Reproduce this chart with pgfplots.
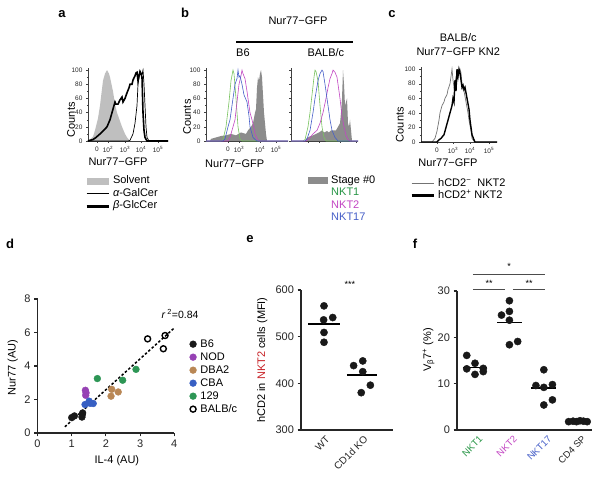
\documentclass[border=0pt]{standalone}
\usepackage{fontspec}
\setmainfont{Liberation Sans}
\usepackage{pgfplots}
\pgfplotsset{compat=1.18}
\definecolor{nktgreenL}{RGB}{120,195,95}
\definecolor{nktgreenT}{RGB}{40,150,70}
\definecolor{nktmag}{RGB}{195,70,195}
\definecolor{nktblue}{RGB}{70,95,200}
\definecolor{nodc}{RGB}{150,65,180}
\definecolor{dbac}{RGB}{185,135,85}
\definecolor{cbac}{RGB}{55,95,195}
\definecolor{cott}{RGB}{45,150,85}
\definecolor{nktred}{RGB}{200,35,40}
\pgfplotsset{
  /pgf/number format/assume math mode=true,
  every axis title shift=0pt,
  flow/.style={scale only axis, axis lines*=left, no markers, clip=false,
    axis line style={line width=0.5pt, black!75},
    every tick/.style={black!75, line width=0.4pt},
    tick align=outside, major tick length=2pt, minor tick length=1.2pt,
    ymin=0, ymax=103, ytick={0,20,40,60,80,100}, minor y tick num=1,
    tick label style={font=\fontsize{6.5}{7}\selectfont, text=black!85},
    label style={font=\fontsize{11}{12}\selectfont},
    legend style={draw=none, fill=none, inner sep=0pt, anchor=north west,
      font=\fontsize{11}{12}\selectfont,
      nodes={inner sep=1pt, text height=8pt, text depth=2.5pt},
      cells={anchor=west}, column sep=2pt}},
  dotstyle/.style={scale only axis, axis lines*=left, clip=false,
    axis line style={line width=1.2pt, black!85},
    every tick/.style={black!85, line width=1.1pt},
    tick align=outside, major tick length=3.5pt,
    tick label style={font=\fontsize{11}{12}\selectfont, text=black!85},
    label style={font=\fontsize{11}{12}\selectfont}},
}
\newcommand{\lfont}{\fontsize{11}{12}\selectfont}
\begin{document}
\begin{tikzpicture}
\useasboundingbox (0pt,0pt) rectangle (604pt,486pt);
\fill[white] (0pt,0pt) rectangle (604pt,486pt);
% panel letters
\node[font=\fontsize{13}{13}\selectfont\bfseries, anchor=base] at (62pt,468pt) {a};
\node[font=\fontsize{13}{13}\selectfont\bfseries, anchor=base] at (185pt,468pt) {b};
\node[font=\fontsize{13}{13}\selectfont\bfseries, anchor=base] at (392pt,468pt) {c};
\node[font=\fontsize{13}{13}\selectfont\bfseries, anchor=base] at (10pt,237pt) {d};
\node[font=\fontsize{13}{13}\selectfont\bfseries, anchor=base] at (250pt,243pt) {e};
\node[font=\fontsize{13}{13}\selectfont\bfseries, anchor=base] at (415pt,237pt) {f};
% panel b header
\node[font=\lfont] at (298pt,465pt) {Nur77−GFP};
\draw[line width=1.7pt] (236pt,444pt) -- (353pt,444pt);

%%%%%%%% panel a
\begin{axis}[flow, at={(88pt,345pt)}, anchor=south west, width=80pt, height=73pt,
  xmin=0, xmax=80, xtick={9,20,37,53,70},
  xticklabels={0,10\textsuperscript{2},10\textsuperscript{3},10\textsuperscript{4},10\textsuperscript{5}},
  ylabel={Counts}, ylabel style={at={(axis description cs:-0.21,0.29)}, anchor=center},
  xlabel={Nur77−GFP}, xlabel style={at={(axis description cs:0.375,-0.29)}, anchor=center},
  legend style={at={(axis description cs:-0.04,-0.46)}}]
\addlegendimage{fill=black!25, draw=none, legend image code/.code={\fill (0pt,-3.5pt) rectangle (22pt,3.5pt);}}
\addlegendentry{Solvent}
\addlegendimage{black, line width=0.6pt, legend image code/.code={\draw (0pt,0pt) -- (22pt,0pt);}}
\addlegendentry{{\itshape α}-GalCer}
\addlegendimage{black, line width=3pt, legend image code/.code={\draw (0pt,0pt) -- (22pt,0pt);}}
\addlegendentry{{\itshape β}-GlcCer}
\addplot[fill=black!25, draw=none, forget plot] coordinates {(0,0)(2,2)(5,6)(7,15)(10,32)(12,50)(15,85)(17,95)(19,100)(21,95)(22,90)(25,70)(27,52)(29,40)(32,28)(34,20)(37,10)(39,5)(42,0)} \closedcycle;
\addplot[black, line width=0.7pt, forget plot] coordinates {(0,0)(40,0)(42,1)(45,10)(47,25)(49,50)(50,80)(52,98)(53,96)(54,94)(55,100)(56,80)(57,50)(58,20)(59,5)(61,0)(80,0)};
\addplot[black, line width=1.6pt, forget plot] coordinates {(0,0)(2,1)(5,2)(8,5)(12,10)(15,14)(19,20)(22,30)(24,40)(26,50)(27,55)(28,52)(30,52)(32,58)(34,62)(35,55)(37,60)(39,68)(41,75)(42,80)(44,80)(45,86)(47,92)(48,96)(49,97)(50,85)(51,92)(52,98)(53,95)(54,90)(55,40)(56,15)(57,5)(59,0)(80,0)};
\end{axis}

%%%%%%%% panel b left (B6)
\begin{axis}[flow, at={(206pt,345pt)}, anchor=south west, width=82pt, height=73pt,
  xmin=0, xmax=82, xtick={22,33,54,70},
  xticklabels={0,10\textsuperscript{3},10\textsuperscript{4},10\textsuperscript{5}},
  title={B6}, title style={font=\lfont, at={(axis description cs:0.45,1.205)}, anchor=center},
  ylabel={Counts}, ylabel style={at={(axis description cs:-0.23,0.33)}, anchor=center},
  xlabel={Nur77−GFP}, xlabel style={at={(axis description cs:0.35,-0.31)}, anchor=center}]
\addplot[fill=black!45, draw=none] coordinates {(4,0)(5,3)(10,5)(15,7)(20,8)(25,10)(30,8)(35,12)(40,10)(42,15)(45,20)(47,25)(49,40)(50,45)(51,75)(52,90)(53,85)(54,95)(55,100)(56,90)(57,65)(58,40)(59,25)(60,10)(61,0)} \closedcycle;
\addplot[nktgreenL, line width=0.6pt] coordinates {(0,0)(15,0)(17,2)(20,20)(23,55)(25,85)(27,100)(28,95)(30,60)(32,20)(34,3)(36,0)(82,0)};
\addplot[nktmag, line width=0.6pt] coordinates {(0,0)(22,0)(24,5)(27,20)(29,30)(31,55)(33,80)(35,92)(36,100)(37,95)(39,88)(41,70)(42,60)(44,40)(46,30)(48,18)(49,10)(51,3)(53,0)(82,0)};
\addplot[nktblue, line width=0.6pt] coordinates {(0,0)(17,0)(19,3)(22,20)(24,30)(27,60)(29,80)(31,88)(32,100)(33,90)(34,92)(36,80)(38,65)(41,55)(43,35)(44,20)(47,5)(50,1)(51,0)(82,0)};
\end{axis}

%%%%%%%% panel b right (BALB/c)
\begin{axis}[flow, at={(291pt,345pt)}, anchor=south west, width=67pt, height=73pt,
  xmin=0, xmax=67, xtick={17,28,49,65}, xticklabels={}, yticklabels={},
  title={BALB/c}, title style={font=\lfont, at={(axis description cs:0.52,1.205)}, anchor=center},
  legend style={at={(axis description cs:0.254,-0.452)}}]
\addlegendimage{fill=black!45, draw=none, legend image code/.code={\fill (0pt,-3.5pt) rectangle (20pt,3.5pt);}}
\addlegendentry{Stage \#0}
\addlegendimage{empty legend}
\addlegendentry{\textcolor{nktgreenT}{NKT1}}
\addlegendimage{empty legend}
\addlegendentry{\textcolor{nktmag}{NKT2}}
\addlegendimage{empty legend}
\addlegendentry{\textcolor{nktblue}{NKT17}}
\addplot[fill=black!45, draw=none, forget plot] coordinates {(14,0)(15,3)(18,6)(22,8)(25,10)(28,12)(31,15)(33,12)(36,14)(38,12)(40,15)(45,15)(47,20)(49,25)(50,40)(51,60)(52,100)(53,80)(54,50)(55,55)(56,60)(57,25)(58,20)(59,30)(60,15)(61,0)} \closedcycle;
\addplot[nktgreenL, line width=0.6pt, forget plot] coordinates {(0,0)(12,0)(14,2)(17,20)(19,40)(21,65)(23,90)(24,100)(25,98)(27,85)(29,50)(31,20)(33,5)(35,0)(67,0)};
\addplot[nktmag, line width=0.6pt, forget plot] coordinates {(0,0)(15,0)(18,3)(22,10)(26,15)(29,25)(32,40)(35,60)(37,75)(39,88)(41,95)(42,100)(44,97)(46,90)(47,80)(49,60)(51,35)(53,20)(55,8)(57,2)(59,0)(67,0)};
\addplot[nktblue, line width=0.6pt, forget plot] coordinates {(0,0)(14,0)(16,3)(19,15)(22,40)(24,60)(27,85)(29,95)(31,100)(32,98)(34,80)(36,60)(39,30)(41,15)(44,5)(47,0)(67,0)};
\end{axis}

%%%%%%%% panel c
\begin{axis}[flow, at={(421pt,344pt)}, anchor=south west, width=76pt, height=75pt,
  xmin=0, xmax=76, xtick={16,32,49,68},
  xticklabels={0,10\textsuperscript{3},10\textsuperscript{4},10\textsuperscript{5}},
  title={BALB/c\\Nur77−GFP KN2},
  title style={font=\fontsize{11}{14}\selectfont, align=center, at={(axis description cs:0.49,1.293)}, anchor=center},
  ylabel={Counts}, ylabel style={at={(axis description cs:-0.28,0.23)}, anchor=center},
  xlabel={Nur77−GFP}, xlabel style={at={(axis description cs:0.355,-0.27)}, anchor=center},
  legend style={at={(axis description cs:-0.145,-0.467)}}]
\addlegendimage{black!55, line width=0.7pt, legend image code/.code={\draw (0pt,0pt) -- (22pt,0pt);}}
\addlegendentry{hCD2\textsuperscript{−}\ \ NKT2}
\addlegendimage{black, line width=3pt, legend image code/.code={\draw (0pt,0pt) -- (22pt,0pt);}}
\addlegendentry{hCD2\textsuperscript{+} NKT2}
\addplot[black!55, line width=0.7pt, forget plot] coordinates {(0,0)(11,0)(14,5)(16,15)(18,30)(19,40)(21,50)(23,55)(24,60)(26,65)(27,72)(29,80)(30,90)(31,100)(32,85)(33,75)(34,82)(36,95)(37,90)(38,98)(39,100)(40,95)(41,80)(42,72)(43,70)(45,55)(47,40)(48,30)(50,15)(51,5)(53,1)(54,0)(76,0)};
\addplot[black, line width=1.4pt, forget plot] coordinates {(0,0)(16,0)(18,3)(20,5)(23,10)(25,20)(27,30)(28,35)(30,45)(31,50)(32,60)(33,55)(34,85)(35,70)(36,100)(37,90)(38,100)(39,95)(40,85)(41,75)(42,78)(43,72)(44,75)(46,60)(48,45)(49,30)(50,20)(51,10)(53,3)(54,0)(76,0)};
\end{axis}

%%%%%%%% panel d
\begin{axis}[dotstyle, at={(37.5pt,53pt)}, anchor=south west, width=136.8pt, height=134pt,
  xmin=0, xmax=4, ymin=0, ymax=8, xtick={0,1,2,3,4}, ytick={0,2,4,6,8},
  xlabel={IL-4 (AU)}, xlabel style={at={(axis description cs:0.58,-0.21)}, anchor=center},
  ylabel={Nur77 (AU)}, ylabel style={at={(axis description cs:-0.18,0.49)}, anchor=center},
  legend image code/.code={\draw plot coordinates {(0pt,0pt)};},
  legend style={at={(axis description cs:1.111,0.713)}, anchor=north west, draw=none, fill=none,
    inner sep=0pt, font=\fontsize{11}{12}\selectfont,
    nodes={inner sep=1pt, text height=8.5pt, text depth=2.5pt}, cells={anchor=west}, column sep=3pt}]
\addplot[only marks, mark=*, mark size=3.4pt, black!90] coordinates {(1.0,0.92)(1.08,1.02)(1.3,0.95)(1.31,1.1)(1.32,1.2)};
\addlegendentry{B6}
\addplot[only marks, mark=*, mark size=3.4pt, nodc] coordinates {(1.40,2.55)(1.42,2.4)(1.41,2.25)};
\addlegendentry{NOD}
\addplot[only marks, mark=*, mark size=3.4pt, dbac] coordinates {(2.17,2.61)(2.15,2.2)(2.36,2.45)};
\addlegendentry{DBA2}
\addplot[only marks, mark=*, mark size=3.4pt, cbac] coordinates {(1.39,1.70)(1.51,1.90)(1.63,1.76)(1.54,1.77)};
\addlegendentry{CBA}
\addplot[only marks, mark=*, mark size=3.4pt, cott] coordinates {(1.75,3.25)(2.49,3.15)(2.88,3.8)};
\addlegendentry{129}
\addplot[only marks, mark=o, mark size=3pt, line width=1.4pt, black, mark options={fill=white}] coordinates {(3.22,5.62)(3.68,5.03)(3.73,5.82)};
\addlegendentry{BALB/c}
\addplot[black, line width=1.5pt, dash pattern=on 2.5pt off 2pt, forget plot] coordinates {(0.80,0.37)(4.02,6.31)};
\node[font=\fontsize{10.5}{12}\selectfont] at (axis cs:4.17,7.12) {\textit{r}\,\textsuperscript{2}=0.84};
\end{axis}

%%%%%%%% panel e
\begin{axis}[dotstyle, at={(301pt,56pt)}, anchor=south west, width=92pt, height=140pt,
  xmin=0.395, xmax=2.816, ymin=300, ymax=600, ytick={300,400,500,600},
  xtick={1,2}, xticklabels={WT,CD1d KO}, xtick style={draw=none},
  xticklabel style={xshift=4pt, yshift=-4pt, rotate=45, anchor=east, inner sep=0pt, font=\fontsize{10}{11}\selectfont},
  ylabel={hCD2 in \textcolor{nktred}{NKT2} cells (MFI)},
  ylabel style={at={(axis description cs:-0.42,0.5)}, anchor=center}]
\addplot[only marks, mark=*, mark size=3.6pt, black!90] coordinates {(1,566)(0.99,536)(1.23,541)(1,509)(1,488)};
\addplot[only marks, mark=*, mark size=3.6pt, black!90] coordinates {(1.78,438)(2.02,448)(2.02,425)(2.22,396)(1.98,380)};
\addplot[black, line width=1.8pt] coordinates {(0.59,527)(1.42,527)};
\addplot[black, line width=1.8pt] coordinates {(1.6,418)(2.4,418)};
\node[font=\fontsize{9}{10}\selectfont] at (axis cs:1.68,613) {***};
\end{axis}

%%%%%%%% panel f
\begin{axis}[dotstyle, at={(457pt,56pt)}, anchor=south west, width=135pt, height=139pt,
  xmin=0.477, xmax=4.40, ymin=0, ymax=30, ytick={0,10,20,30},
  xtick={1,2,3,4}, xtick style={draw=none},
  xticklabels={\textcolor{nktgreenT}{NKT1},\textcolor{nktmag}{NKT2},\textcolor{nktblue}{NKT17},CD4 SP},
  xticklabel style={xshift=6pt, yshift=-4pt, rotate=45, anchor=east, inner sep=0pt, font=\fontsize{9.5}{10}\selectfont},
  ylabel={V\textsubscript{β}7\textsuperscript{+} (\%)},
  ylabel style={at={(axis description cs:-0.21,0.575)}, anchor=center}]
\addplot[only marks, mark=*, mark size=3.6pt, black!90] coordinates {(0.76,16.1)(1.0,14.4)(0.76,13.2)(1.24,13.3)(1.24,12.6)(1.0,12.0)};
\addplot[only marks, mark=*, mark size=3.6pt, black!90] coordinates {(2.0,27.9)(2.0,25.6)(1.77,24.8)(2.0,23.7)(2.0,18.4)(2.24,19.1)};
\addplot[only marks, mark=*, mark size=3.6pt, black!90] coordinates {(3.0,13.0)(2.77,9.6)(3.25,9.8)(3.0,9.2)(3.25,6.5)(3.0,5.4)};
\addplot[only marks, mark=*, mark size=3.6pt, black!90] coordinates {(3.72,1.8)(3.85,1.9)(3.95,1.8)(4.05,2.0)(4.15,1.9)(4.26,1.8)};
\addplot[black, line width=1.8pt] coordinates {(0.65,13.5)(1.35,13.5)};
\addplot[black, line width=1.8pt] coordinates {(1.64,23.2)(2.36,23.2)};
\addplot[black, line width=1.8pt] coordinates {(2.64,9.1)(3.36,9.1)};
\addplot[black, line width=1.8pt] coordinates {(3.65,1.9)(4.35,1.9)};
\addplot[black!70, line width=0.8pt] coordinates {(0.94,30.3)(1.87,30.3)};
\addplot[black!70, line width=0.8pt] coordinates {(2.10,30.3)(3.03,30.3)};
\addplot[black!70, line width=0.8pt] coordinates {(0.94,33.5)(3.03,33.5)};
\node[font=\fontsize{9}{10}\selectfont] at (axis cs:1.41,31.6) {**};
\node[font=\fontsize{9}{10}\selectfont] at (axis cs:2.57,31.6) {**};
\node[font=\fontsize{9}{10}\selectfont] at (axis cs:1.99,35.2) {*};
\end{axis}
\end{tikzpicture}
\end{document}
